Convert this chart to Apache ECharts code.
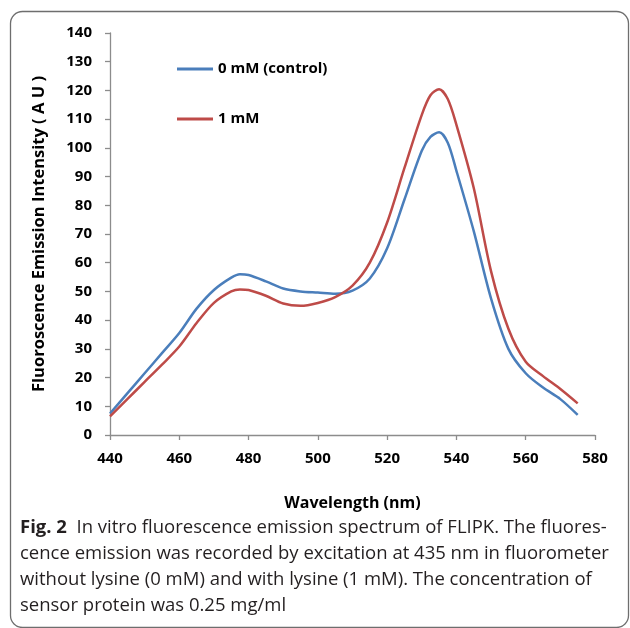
<!DOCTYPE html>
<html>
<head>
<meta charset="utf-8">
<script src="https://cdn.jsdelivr.net/npm/echarts@6/dist/echarts.min.js"></script>
<style>
html,body{margin:0;padding:0;background:#fff;}
#c{width:630px;height:628px;}
</style>
</head>
<body>
<div id="c"></div>
<script>
var wavelengths = [440,445,450,455,460,465,470,475,477.5,480,485,490,495,500,505,510,515,520,525,530,532.5,535,537.5,540,545,550,555,560,565,570,575];
var control0mM = [7.5,14.5,21.5,28.5,35.5,44,50.5,54.8,56,55.7,53.5,51,50,49.6,49.2,50.3,54.5,65,82,99,103.8,105.4,101.8,92,71,47.5,30,21.5,16.5,12.5,7];
var lysine1mM = [6.5,12.5,18.5,24.5,30.8,39,46,50,50.7,50.5,48.5,45.8,45,46,48,52,60,74,93,111.5,118.3,120.4,117,108,86,57,37,25.5,20.5,16,11];
var seriesNames = ['0 mM (control)', '1 mM'];
var xTitle = 'Wavelength (nm)';
var yTitle = 'Fluoroscence Emission Intensity ( A U )';
var captionLines = [
  '{b|Fig. 2}  In vitro fluorescence emission spectrum of FLIPK. The fluores-',
  'cence emission was recorded by excitation at 435 nm in fluorometer',
  'without lysine (0 mM) and with lysine (1 mM). The concentration of',
  'sensor protein was 0.25 mg/ml'
];

function pairs(xs, ys){ return xs.map(function(x,i){ return [x, ys[i]]; }); }

var chart = echarts.init(document.getElementById('c'), null, {renderer:'canvas'});
var font = '"Open Sans", "DejaVu Sans", sans-serif';
var axisColor = '#8c8c8c';

var graphics = [{
  type: 'rect',
  shape: {x: 10.5, y: 11.5, width: 618, height: 616, r: 12},
  style: {fill: 'none', stroke: '#6e6e6e', lineWidth: 1.3},
  z: 0
}];
captionLines.forEach(function(t, i){
  graphics.push({
    type: 'text',
    left: 20,
    top: 518 + i * 26,
    style: {
      text: t,
      font: '18.5px ' + font,
      fill: '#231f20',
      rich: { b: { fontWeight: 'bold', fontSize: 18.5, fontFamily: font, fill: '#231f20' } }
    }
  });
});

chart.setOption({
  animation: false,
  backgroundColor: '#fff',
  grid: {left: 110, right: 35, top: 33, bottom: 193, containLabel: false},
  legend: {
    orient: 'vertical',
    left: 172,
    top: 55,
    itemWidth: 36,
    itemHeight: 3,
    itemGap: 32,
    icon: 'rect',
    textStyle: {fontFamily: font, fontWeight: 'bold', fontSize: 15, color: '#000', lineHeight: 18},
    data: seriesNames
  },
  xAxis: {
    type: 'value',
    min: 440, max: 580, interval: 20,
    name: xTitle,
    nameLocation: 'middle',
    nameGap: 60,
    nameTextStyle: {fontFamily: font, fontWeight: 'bold', fontSize: 16, color: '#000'},
    axisLine: {show: true, lineStyle: {color: axisColor, width: 1.3}},
    axisTick: {show: true, length: 5, lineStyle: {color: axisColor, width: 1.3}},
    axisLabel: {margin: 16, fontFamily: font, fontWeight: 'bold', fontSize: 15, color: '#000'},
    splitLine: {show: false}
  },
  yAxis: {
    type: 'value',
    min: 0, max: 140, interval: 10,
    name: yTitle,
    nameLocation: 'middle',
    nameGap: 62,
    nameTextStyle: {fontFamily: font, fontWeight: 'bold', fontSize: 16.5, color: '#000'},
    axisLine: {show: true, lineStyle: {color: axisColor, width: 1.3}},
    axisTick: {show: true, length: 5, lineStyle: {color: axisColor, width: 1.3}},
    axisLabel: {margin: 18, fontFamily: font, fontWeight: 'bold', fontSize: 15, color: '#000'},
    splitLine: {show: false}
  },
  series: [
    {
      name: seriesNames[0], type: 'line', smooth: 0.3, symbol: 'none',
      data: pairs(wavelengths, control0mM),
      lineStyle: {color: '#4a7ebb', width: 2.5},
      itemStyle: {color: '#4a7ebb'}
    },
    {
      name: seriesNames[1], type: 'line', smooth: 0.3, symbol: 'none',
      data: pairs(wavelengths, lysine1mM),
      lineStyle: {color: '#be4b48', width: 2.5},
      itemStyle: {color: '#be4b48'}
    }
  ],
  graphic: graphics
});
</script>
</body>
</html>
